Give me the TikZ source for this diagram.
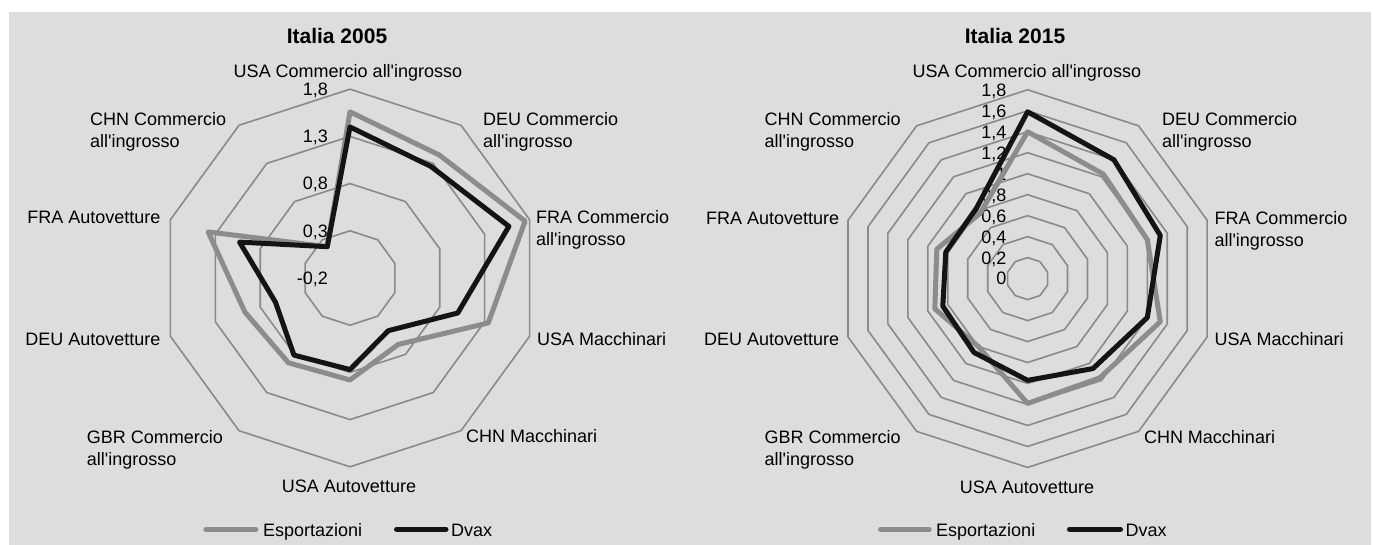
\documentclass[tikz,border=0pt]{standalone}
\usepackage{fontspec}
\setmainfont{Liberation Sans}
\definecolor{panel}{HTML}{DCDDDF}
\definecolor{ringc}{HTML}{8A8A8A}
\definecolor{espc}{HTML}{8C8C8C}
\definecolor{dvaxc}{HTML}{141414}
\newcommand\aq{\textquotesingle}
\tikzset{
  ring/.style={draw=ringc, line width=1.6pt},
  esp/.style={draw=espc, line width=5pt, line join=round},
  dvax/.style={draw=dvaxc, line width=5pt, line join=round},
  lab/.style={inner sep=0pt, font=\fontsize{18}{21}\selectfont, text=black},
  labw/.style={lab, anchor=base west},
  labe/.style={lab, anchor=base east},
  labc/.style={lab, anchor=base},
  tick/.style={lab, anchor=base east},
  ttl/.style={inner sep=0pt, font=\fontsize{21}{24}\selectfont\bfseries, anchor=base},
  legesp/.style={draw=espc, line width=5pt, line cap=round},
  legdvax/.style={draw=dvaxc, line width=5pt, line cap=round},
}
% style, offset, unit, values, name prefix
\newcommand\radarline[5]{%
  \foreach \v [count=\i from 0] in {#4} \coordinate (#5-\i) at (90-36*\i:{(\v+#2)*#3});
  \draw[#1] (#5-0) \foreach \i in {1,...,9}{--(#5-\i)} -- cycle;}
\begin{document}
\begin{tikzpicture}[x=1pt,y=-1pt]
\useasboundingbox (0,0) rectangle (1373,545);
\fill[panel] (9,12) rectangle (1371,545);

% ---------------- left chart: Italia 2005 ----------------
\node[ttl] (title1) at (337,43.3) {Italia 2005};
\begin{scope}[shift={(350pt,-278pt)}, y=1pt]
  \foreach \r in {1,...,4}
    \draw[ring] (90:{\r*47.2}) \foreach \k in {1,...,9}{--(90-36*\k:{\r*47.2})} -- cycle;
  \node[tick] (a1) at (-22,{0*47.2-6.4}) {-0,2};
  \node[tick] (a2) at (-22,{1*47.2-6.4}) {0,3};
  \node[tick] (a3) at (-22,{2*47.2-6.4}) {0,8};
  \node[tick] (a4) at (-22,{3*47.2-6.4}) {1,3};
  \node[tick] (a5) at (-22,{4*47.2-6.4}) {1,8};
  \radarline{esp}{0.2}{94.4}{1.56,1.41,1.75,1.34,0.67,0.88,0.91,0.97,1.38,0.21}{le}
  \radarline{dvax}{0.2}{94.4}{1.40,1.26,1.57,1.00,0.49,0.77,0.81,0.63,1.03,0.21}{ld}
\end{scope}
\node[labc] (l0) at (348,77.8) {USA Commercio all\aq ingrosso};
\node[labw] (l1a) at (483,125.8) {DEU Commercio};
\node[labw] (l1b) at (483,147.5) {all\aq ingrosso};
\node[labw] (l2a) at (536,223.5) {FRA Commercio};
\node[labw] (l2b) at (536,245.2) {all\aq ingrosso};
\node[labw] (l3) at (537,345.5) {USA Macchinari};
\node[labw] (l4) at (466,442.8) {CHN Macchinari};
\node[labc] (l5) at (349,492) {USA Autovetture};
\node[labw] (l6a) at (86.7,443.5) {GBR Commercio};
\node[labw] (l6b) at (86.7,465.2) {all\aq ingrosso};
\node[labe] (l7) at (160.7,345.5) {DEU Autovetture};
\node[labe] (l8) at (160.7,223.5) {FRA Autovetture};
\node[labw] (l9a) at (90,125.8) {CHN Commercio};
\node[labw] (l9b) at (90,147.5) {all\aq ingrosso};
% legend
\coordinate (lg1a) at (205.8,529.4);
\coordinate (lg1b) at (255.8,529.4);
\draw[legesp] (lg1a) -- (lg1b);
\node[labw] (lgt1) at (263,536) {Esportazioni};
\coordinate (lg2a) at (396.5,529.4);
\coordinate (lg2b) at (446,529.4);
\draw[legdvax] (lg2a) -- (lg2b);
\node[labw] (lgt2) at (451,536) {Dvax};

% ---------------- right chart: Italia 2015 ----------------
\node[ttl] (title2) at (1015,43.5) {Italia 2015};
\begin{scope}[shift={(1027.6pt,-278.6pt)}, y=1pt]
  \foreach \r in {1,...,9}
    \draw[ring] (90:{\r*20.98}) \foreach \k in {1,...,9}{--(90-36*\k:{\r*20.98})} -- cycle;
  \node[tick] (b0) at (-21,{0*20.98-6.4}) {0};
  \node[tick] (b1) at (-21,{1*20.98-6.4}) {0,2};
  \node[tick] (b2) at (-21,{2*20.98-6.4}) {0,4};
  \node[tick] (b3) at (-21,{3*20.98-6.4}) {0,6};
  \node[tick] (b4) at (-21,{4*20.98-6.4}) {0,8};
  \node[tick] (b5) at (-21,{5*20.98-6.4}) {1};
  \node[tick] (b6) at (-21,{6*20.98-6.4}) {1,2};
  \node[tick] (b7) at (-21,{7*20.98-6.4}) {1,4};
  \node[tick] (b8) at (-21,{8*20.98-6.4}) {1,6};
  \node[tick] (b9) at (-21,{9*20.98-6.4}) {1,8};
  \radarline{esp}{0}{104.9}{1.40,1.23,1.20,1.33,1.17,1.19,0.80,0.93,0.91,0.77}{re}
  \radarline{dvax}{0}{104.9}{1.59,1.40,1.33,1.20,1.06,0.97,0.87,0.85,0.82,0.83}{rd}
\end{scope}
\node[labc] (r0) at (1026.8,77.8) {USA Commercio all\aq ingrosso};
\node[labw] (r1a) at (1161.9,125.8) {DEU Commercio};
\node[labw] (r1b) at (1161.9,147.5) {all\aq ingrosso};
\node[labw] (r2a) at (1214.3,224.5) {FRA Commercio};
\node[labw] (r2b) at (1214.3,246.2) {all\aq ingrosso};
\node[labw] (r3) at (1214.3,345.5) {USA Macchinari};
\node[labw] (r4) at (1143.8,443.5) {CHN Macchinari};
\node[labc] (r5) at (1027,493) {USA Autovetture};
\node[labw] (r6a) at (764.4,443.5) {GBR Commercio};
\node[labw] (r6b) at (764.4,465.2) {all\aq ingrosso};
\node[labe] (r7) at (839.3,345.5) {DEU Autovetture};
\node[labe] (r8) at (839.3,224.5) {FRA Autovetture};
\node[labw] (r9a) at (764.4,125.8) {CHN Commercio};
\node[labw] (r9b) at (764.4,147.5) {all\aq ingrosso};
% legend
\coordinate (lg3a) at (880.5,529.4);
\coordinate (lg3b) at (929.2,529.4);
\draw[legesp] (lg3a) -- (lg3b);
\node[labw] (lgt3) at (936,536) {Esportazioni};
\coordinate (lg4a) at (1069.5,529.4);
\coordinate (lg4b) at (1120.5,529.4);
\draw[legdvax] (lg4a) -- (lg4b);
\node[labw] (lgt4) at (1125.3,536) {Dvax};
\end{tikzpicture}
\end{document}
